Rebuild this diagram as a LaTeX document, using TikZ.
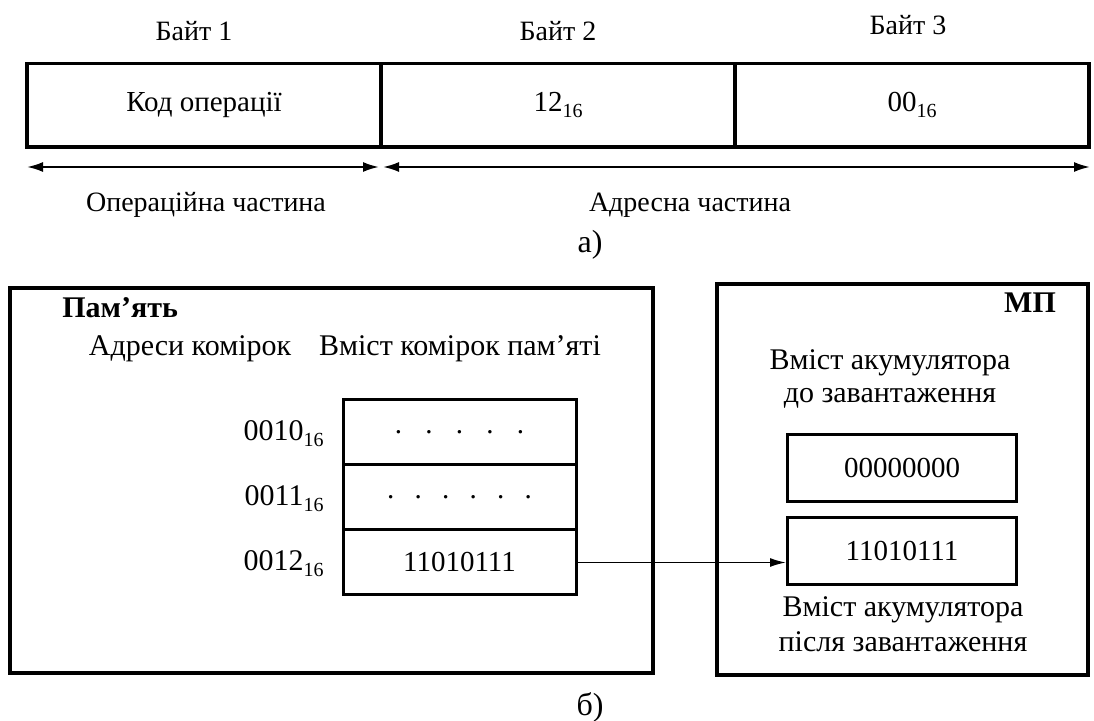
\documentclass[tikz,border=0pt]{standalone}
\usepackage{fontspec}
\setmainfont{Liberation Serif}
\usetikzlibrary{arrows.meta}
\newcommand\hexsub{\raisebox{-0.45ex}{\fontsize{10}{12}\selectfont 16}}
\begin{document}
\begin{tikzpicture}[x=0.5pt,y=-0.5pt,
  txt/.style={font=\fontsize{14}{16}\selectfont, inner sep=0pt},
  btxt/.style={font=\fontsize{15}{17}\selectfont\bfseries, inner sep=0pt},
  btxtb/.style={font=\fontsize{15}{17}\selectfont, inner sep=0pt},
  lbl/.style={font=\fontsize{16}{18}\selectfont, inner sep=0pt},
  bigbox/.style={draw, line width=1.7pt, inner sep=0pt},
  cellbox/.style={draw, line width=1.5pt, inner sep=0pt, font=\fontsize{14.5}{16}\selectfont},
  dimarrow/.style={line width=1pt, {Latex[length=8pt,width=5pt]}-{Latex[length=8pt,width=5pt]}},
  flow/.style={line width=0.8pt, -{Latex[length=8pt,width=4.5pt]}}
]
\useasboundingbox (0,0) rectangle (1094,721);

% ---- part a) ----
\node[txt] (b1) at (194,31) {Байт 1};
\node[txt] (b2) at (558,31) {Байт 2};
\node[txt] (b3) at (908,25) {Байт 3};

\node[bigbox, minimum width=177pt, minimum height=41.75pt, font=\fontsize{14.5}{16}\selectfont] (c1) at (204,105.25) {Код операції};
\node[bigbox, minimum width=177pt, minimum height=41.75pt, font=\fontsize{14.5}{16}\selectfont] (c2) at (558,105.25) {12\hexsub};
\node[bigbox, minimum width=177pt, minimum height=41.75pt, font=\fontsize{14.5}{16}\selectfont] (c3) at (912,105.25) {00\hexsub};

\coordinate (aL) at (27,167);
\coordinate (aM1) at (379,167);
\coordinate (aM2) at (383,167);
\coordinate (aR) at (1090,167);
\draw[dimarrow] (aL) -- (aM1);
\draw[dimarrow] (aM2) -- (aR);

\node[txt] (op) at (206,205) {Операційна частина};
\node[txt] (ad) at (690,205) {Адресна частина};
\node[lbl] (la) at (590,245) {а)};

% ---- part b) ----
\node[bigbox, minimum width=321.5pt, minimum height=192.5pt] (mem) at (331.5,480.5) {};
\node[btxt, anchor=west] (memt) at (62,308) {Пам’ять};
\node[btxtb] (adrh) at (190,349) {Адреси комірок};
\node[btxtb] (conth) at (460,349) {Вміст комірок пам’яті};

\node[cellbox, minimum width=116.5pt, minimum height=32.5pt] (m1) at (459.5,432.5) {.\hspace{0.8em}.\hspace{0.8em}.\hspace{0.8em}.\hspace{0.8em}.};
\node[cellbox, minimum width=116.5pt, minimum height=32.5pt] (m2) at (459.5,497.5) {.\hspace{0.7em}.\hspace{0.7em}.\hspace{0.7em}.\hspace{0.7em}.\hspace{0.7em}.};
\node[cellbox, minimum width=116.5pt, minimum height=32.5pt] (m3) at (459.5,562.5) {11010111};

\node[btxtb, anchor=east] (a1) at (324,434) {0010\hexsub};
\node[btxtb, anchor=east] (a2) at (324,499) {0011\hexsub};
\node[btxtb, anchor=east] (a3) at (324,564) {0012\hexsub};

\node[bigbox, minimum width=185.5pt, minimum height=195.5pt] (mp) at (902.5,479.5) {};
\node[btxt] (mpt) at (1030,303) {МП};
\node[btxtb] (bef1) at (890,363) {Вміст акумулятора};
\node[btxtb] (bef2) at (890,398) {до завантаження};
\node[cellbox, minimum width=114.5pt, minimum height=33.5pt] (acc1) at (902,468.5) {00000000};
\node[cellbox, minimum width=114.5pt, minimum height=33.5pt] (acc2) at (902,551.5) {11010111};
\node[btxtb] (aft1) at (903,610) {Вміст акумулятора};
\node[btxtb] (aft2) at (903,642) {після завантаження};

\draw[flow] (m3.east) -- (m3.east -| acc2.west);

\node[lbl] (lb) at (590,707) {б)};
\end{tikzpicture}
\end{document}
